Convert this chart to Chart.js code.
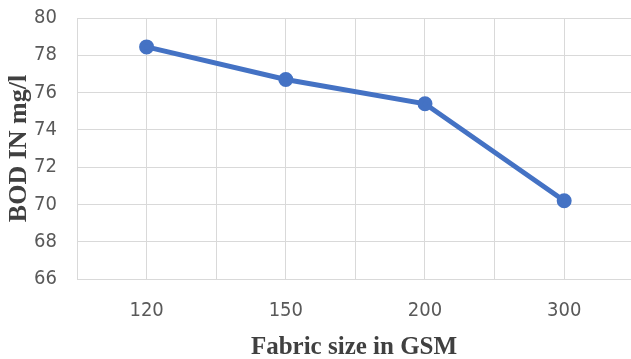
<!DOCTYPE html>
<html>
<head>
<meta charset="utf-8">
<script src="https://cdn.jsdelivr.net/npm/chart.js@4/dist/chart.umd.min.js"></script>
<style>
  html, body { margin: 0; padding: 0; background: #ffffff; overflow: hidden; width: 631px; height: 359px; }
  #wrap { width: 651px; height: 373px; margin-top: -14px; position: relative; }
</style>
</head>
<body>
<div id="wrap"><canvas id="c"></canvas></div>
<script>
// Fabric weight categories (GSM) and measured BOD (mg/l)
const categories = ['120', '150', '200', '300'];
const bodValues = [78.45, 76.7, 75.4, 70.2];
const yTicks = [66, 68, 70, 72, 74, 76, 78, 80];

const tickFont = { family: "'DejaVu Sans Condensed', 'Open Sans', sans-serif", size: 20 };
const xTitleFont = { family: "'Liberation Serif', 'DejaVu Serif', serif", size: 25, weight: 'bold' };
const yTitleFont = { family: "'Liberation Serif', 'DejaVu Serif', serif", size: 26, weight: 'bold' };

const points = bodValues.map((v, i) => ({ x: i, y: v }));

new Chart(document.getElementById('c'), {
  type: 'line',
  data: {
    datasets: [{
      data: points,
      borderColor: '#4472C4',
      backgroundColor: '#4472C4',
      borderWidth: 5,
      pointRadius: 5,
      pointHoverRadius: 5,
      tension: 0,
      fill: false
    }]
  },
  options: {
    responsive: true,
    maintainAspectRatio: false,
    animation: false,
    layout: { padding: 0 },
    plugins: { legend: { display: false }, tooltip: { enabled: false } },
    scales: {
      x: {
        type: 'linear',
        min: -0.5,
        max: 3.48,
        afterBuildTicks: (scale) => {
          const t = [];
          for (let v = -0.5; v <= 3.0001; v += 0.5) t.push({ value: v });
          t.push({ value: 3.48 });
          scale.ticks = t;
        },
        afterFit: (scale) => { scale.height = 80; },
        border: { display: false },
        grid: { color: '#d9d9d9', lineWidth: 1, drawTicks: false },
        ticks: {
          color: '#595959',
          font: tickFont,
          padding: 20,
          maxRotation: 0,
          autoSkip: false,
          callback: (v) => Number.isInteger(v) ? categories[v] : ''
        },
        title: {
          display: true,
          text: 'Fabric size in GSM',
          color: '#404040',
          font: xTitleFont,
          padding: { top: 4, bottom: -4 }
        }
      },
      y: {
        min: 66,
        max: 80,
        afterBuildTicks: (scale) => { scale.ticks = yTicks.map(v => ({ value: v })); },
        afterFit: (scale) => { scale.width = 77; },
        border: { display: false },
        grid: { color: '#d9d9d9', lineWidth: 1, drawTicks: false },
        ticks: {
          color: '#595959',
          font: tickFont,
          padding: 20
        },
        title: {
          display: true,
          text: 'BOD IN mg/l',
          color: '#404040',
          font: yTitleFont,
          padding: { top: 4, bottom: 0 }
        }
      }
    }
  }
});
</script>
</body>
</html>
